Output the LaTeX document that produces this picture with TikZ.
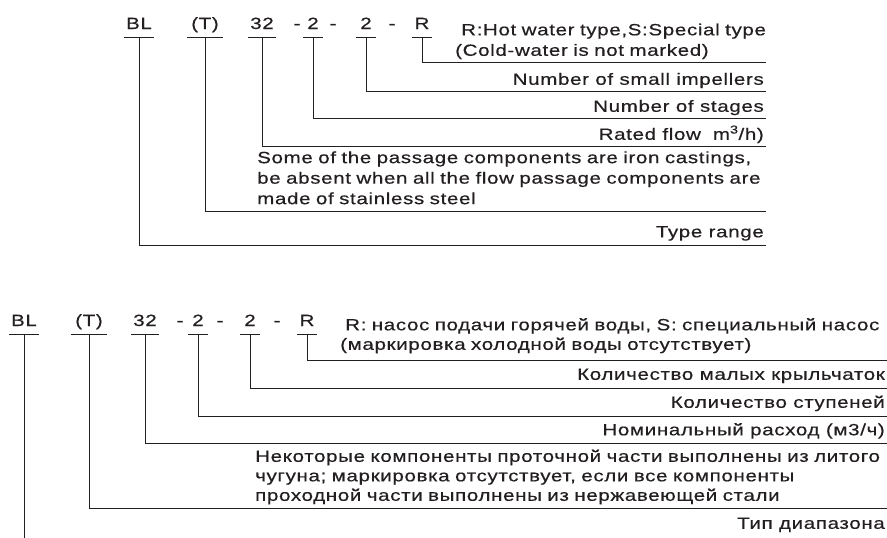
\documentclass[tikz,border=0pt]{standalone}
\usepackage{fontspec}
\setmainfont{Liberation Sans}[FakeStretch=1.26,LetterSpace=4,FakeBold=0.5]
\usetikzlibrary{positioning}
\definecolor{ink}{RGB}{35,31,32}
\tikzset{txt/.style={font=\fontsize{16.3}{20.5}\selectfont},
         code/.style={txt, anchor=base, text=ink, text depth=0pt, inner xsep=2pt,
                      inner ysep=8pt, minimum width=20pt},
         dashs/.style={txt, anchor=base, text=ink, inner sep=0pt},
         desc/.style={txt, anchor=south east, text=ink, text depth=0pt, inner xsep=2pt,
                      inner ysep=6pt},
         block/.style={txt, anchor=south west, text=ink, inner xsep=2pt, align=left},
         lead/.style={draw=ink, line width=0.9pt}}

\begin{document}
\begin{tikzpicture}[x=1pt, y=-1pt]
        \useasboundingbox (0,0) rectangle (887,538);

        % Upper code
        \node[code] (a1) at (139,29) {BL};
        \node[code, minimum width=36pt] (a2) at (205,29) {(T)};
        \node[code] (a3) at (262,29) {32};
        \node[dashs] (da1) at (297,29) {-};
        \node[code] (a4) at (313,29) {2};
        \node[dashs] (da2) at (333,29) {-};
        \node[code] (a5) at (366,29) {2};
        \node[dashs] (da3) at (392,29) {-};
        \node[code] (a6) at (422,29) {R};

        % Upper meanings
        \node[block, text width=309pt, inner ysep=2.6pt] (ta6) at (453,62)
            {\hspace*{6pt}R:Hot water type,S:Special type\\(Cold-water is not marked)};
        \node[desc] (ta5) at (766,91) {Number of small impellers};
        \node[desc] (ta4) at (766,118) {Number of stages};
        \node[desc] (ta3) at (766,146) {Rated flow\hspace{12pt}m\textsuperscript{3}/h)};
        \node[block, text width=507pt, inner ysep=6.5pt] (ta2) at (255,211)
            {\mbox{Some of the passage components are iron castings,}\\
             \mbox{be absent when all the flow passage components are}\\
             made of stainless steel};
        \node[desc, inner ysep=7.5pt] (ta1) at (766,245) {Type range};

        \foreach \n in {a1,a2,a3,a4,a5,a6}
            \draw[lead] (\n.south west) -- (\n.south east);
        \draw[lead] (a6.south) |- (ta6.south east);
        \draw[lead] (a5.south) |- (ta5.south east);
        \draw[lead] (a4.south) |- (ta4.south east);
        \draw[lead] (a3.south) |- (ta3.south east);
        \draw[lead] (a2.south) |- (ta2.south east);
        \draw[lead] (a1.south) |- (ta1.south east);

        \begin{scope}[txt/.style={font=\fontsize{16.3}{19.5}\selectfont}]
        % Lower code
        \node[code] (b1) at (24,326) {BL};
        \node[code, minimum width=36pt] (b2) at (89,326) {(T)};
        \node[code] (b3) at (145,326) {32};
        \node[dashs] (db1) at (180,326) {-};
        \node[code] (b4) at (198,326) {2};
        \node[dashs] (db2) at (220,326) {-};
        \node[code] (b5) at (250,326) {2};
        \node[dashs] (db3) at (277,326) {-};
        \node[code] (b6) at (307,326) {R};

        % Lower meanings
        \node[block, text width=545pt, inner ysep=6.6pt] (tb6) at (338,360)
            {\mbox{\hspace*{5pt}R: насос подачи горячей воды, S: специальный насос}\\(маркировка холодной воды отсутствует)};
        \node[desc, inner ysep=8pt] (tb5) at (887,388) {Количество малых крыльчаток};
        \node[desc, inner ysep=8pt] (tb4) at (887,416) {Количество ступеней};
        \node[desc, inner ysep=7.5pt] (tb3) at (887,443) {Номинальный расход (м3/ч)};
        \node[block, text width=630pt, inner ysep=3.6pt] (tb2) at (253,508)
            {\mbox{Некоторые компоненты проточной части выполнены из литого}\\
             \mbox{чугуна; маркировка отсутствует, если все компоненты}\\
             проходной части выполнены из нержавеющей стали};
        \node[desc, inner ysep=9pt] (tb1) at (887,538) {Тип диапазона};

        \foreach \n in {b1,b2,b3,b4,b5,b6}
            \draw[lead] (\n.south west) -- (\n.south east);
        \draw[lead] (b6.south) |- (tb6.south east);
        \draw[lead] (b5.south) |- (tb5.south east);
        \draw[lead] (b4.south) |- (tb4.south east);
        \draw[lead] (b3.south) |- (tb3.south east);
        \draw[lead] (b2.south) |- (tb2.south east);
        \draw[lead] (b1.south) -- (b1.south |- tb1.south);
        \end{scope}

    \end{tikzpicture}
\end{document}
